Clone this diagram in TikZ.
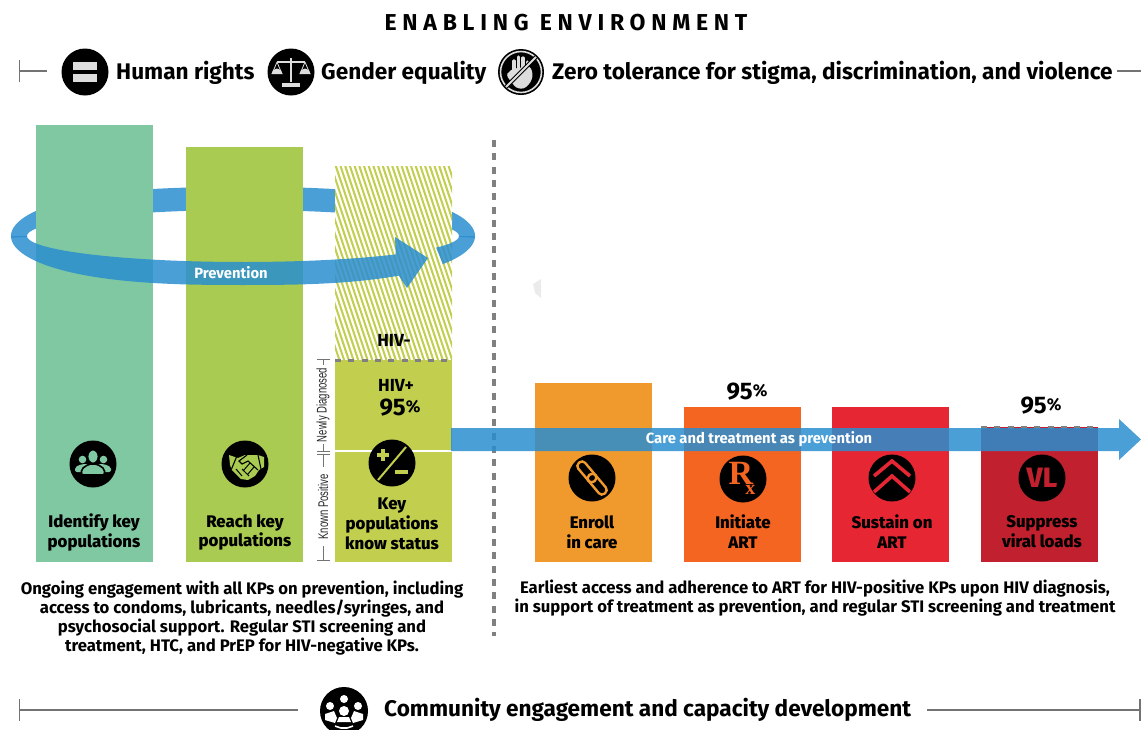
\documentclass[tikz,border=0pt]{standalone}
\usepackage{fontspec}
\setmainfont{Fira Sans}
\newfontfamily\narrowfont[FakeStretch=0.68]{Liberation Sans}
\newfontfamily\spacedfont[LetterSpace=25]{Fira Sans}
\newfontfamily\heavyfont{Fira Sans ExtraBold}
\newfontfamily\rxfont{Liberation Serif}
\definecolor{kpmint}{RGB}{128,200,162}
\definecolor{kpgreen}{RGB}{169,203,82}
\definecolor{kplime}{RGB}{193,206,78}
\definecolor{kporange}{RGB}{240,154,46}
\definecolor{kpflame}{RGB}{245,101,34}
\definecolor{kpred}{RGB}{230,39,51}
\definecolor{kpdark}{RGB}{193,33,46}
\definecolor{kpblue}{RGB}{42,142,207}
\definecolor{kpsky}{RGB}{74,159,214}
\definecolor{kpgrey}{RGB}{221,221,221}
\tikzstyle{bar}=[inner sep=0,minimum width=117pt,outer sep=0]
\tikzstyle{icon}=[circle,fill=black,inner sep=0,minimum size=47pt]
\tikzset{headtext/.style={font=\fontsize{22.6}{27}\selectfont\bfseries,inner sep=0}}
\tikzset{bartext/.style={font=\fontsize{16.8}{19.8}\selectfont\heavyfont,align=center,inner sep=0}}
\tikzset{bodytext/.style={font=\fontsize{16.7}{19.2}\selectfont\bfseries,align=center,inner sep=0}}
\tikzset{pct/.style={font=\fontsize{24}{26}\selectfont\bfseries,inner sep=0}}
\tikzset{sidetext/.style={font=\fontsize{14}{15}\selectfont\narrowfont,text=black!85,rotate=90,inner sep=0}}
\tikzset{greyrule/.style={draw=black!55,line width=1.1pt}}
\tikzset{greydash/.style={draw=black!50,line width=3.5pt,dash pattern=on 7pt off 6.3pt}}
\tikzset{declare function={ringx(\t)=243+232*sign(cos(\t))*pow(abs(cos(\t))+0.0001,.75);}}
\newcommand{\pctmark}{\raisebox{3pt}{\fontsize{17}{17}\selectfont\%}}
\begin{document}
\begin{tikzpicture}[x=1pt,y=-1pt]
\useasboundingbox (0,0) rectangle (1141,729);

% back of the prevention ring
\fill[kpsky] plot[domain=178:362,samples=61] ({ringx(\x)},{236+49*sin(\x)})
  -- plot[domain=362:178,samples=61] ({243+216*cos(\x)},{236+26*sin(\x)}) -- cycle;

% bars
\node[bar,fill=kpmint,minimum height=437pt] (identify) at (94.5,343.5) {};
\node[bar,fill=kpgreen,minimum height=415pt] (reach) at (244.5,354.5) {};
\node[bar,fill=white,minimum height=194pt] (negative) at (393.5,263) {};
\begin{scope}
\clip (335,166) rectangle (452,360);
\foreach \x in {270,274.7,...,456} {
  \draw[kplime,line width=2pt] (\x,166) -- (\x+64.7,360);
}
\end{scope}
\node[bar,fill=kplime,minimum height=202pt] (status) at (393.5,461) {};
\draw[white,line width=1.6pt] (status.west |- 0,451) -- (status.east |- 0,451);
\node[bar,fill=kporange,minimum height=179pt] (enroll) at (593.5,472.5) {};
\node[bar,fill=kpflame,minimum height=155pt] (initiate) at (742.5,484.5) {};
\node[bar,fill=kpred,minimum height=155pt] (sustain) at (890.5,484.5) {};
\node[bar,fill=kpdark,minimum height=135pt] (suppress) at (1039.5,494.5) {};

\draw[greydash,line width=3pt,dash pattern=on 6pt off 7.3pt] (335,360) -- (452,360);
\draw[greydash,line width=3pt,dash pattern=on 6pt off 7.3pt] (981,427) -- (1098,427);
\draw[greydash] (494,140) -- (494,636);

% faint mark
\fill[black!8] (533,284) -- (541,279) -- (541,298) -- (535,293) -- cycle;

% brackets left of the status bar
\draw[greyrule,line width=.8pt] (317,359.5) -- (330,359.5);
\draw[greyrule,line width=.8pt] (323,359.5) -- (323,365);
\draw[greyrule,line width=.8pt] (323,444) -- (323,451);
\draw[greyrule,line width=.8pt] (317,451) -- (330,451);
\draw[greyrule,line width=.8pt] (317,454) -- (330,454);
\draw[greyrule,line width=.8pt] (323,454) -- (323,467);
\draw[greyrule,line width=.8pt] (323,546) -- (323,560);
\draw[greyrule,line width=.8pt] (317,560) -- (330,560);
\node[sidetext] (newly) at (323,405) {Newly Diagnosed};
\node[sidetext] (known) at (323,507) {Known Positive};

% front of the ring
\fill[kpblue,opacity=.85] plot[domain=180:54,samples=50] ({ringx(\x)},{236+49*sin(\x)})
  -- (407,288) -- (428,258) -- (395,237)
  -- plot[domain=45:180,samples=50] ({243+216*cos(\x)},{236+26*sin(\x)}) -- cycle;
\fill[kpblue,opacity=.85] plot[domain=35:0,samples=20] ({ringx(\x)},{236+49*sin(\x)})
  -- plot[domain=0:26.6,samples=20] ({243+216*cos(\x)},{236+26*sin(\x)}) -- cycle;
\node[font=\fontsize{14.8}{16}\selectfont\bfseries,text=white,inner sep=0] (prevention) at (231,273) {Prevention};

% care arrow
\fill[kpblue,opacity=.85] (451,428) -- (1119,428) -- (1119,419) -- (1141,439.5) -- (1119,460) -- (1119,451) -- (451,451) -- cycle;
\node[font=\fontsize{14.8}{16}\selectfont\bfseries,text=white,inner sep=0] (care) at (759,439.5) {Care and treatment as prevention};

% top row
\node[font=\fontsize{23}{26}\selectfont\bfseries\spacedfont,inner sep=0] (title) at (566,23) {ENABLING ENVIRONMENT};
\draw[greyrule] (19.5,60) -- (19.5,82);
\draw[greyrule] (19.5,71) -- (47,71);
\draw[greyrule] (1117,71) -- (1141,71);
\node[icon] (rights) at (85,72) {};
\fill[kpgrey] (73,61.5) rectangle (97,69.5);
\fill[kpgrey] (73,74) rectangle (97,82);
\node[headtext,anchor=west] (rightstext) at (116,72.5) {Human rights};
\node[icon] (gender) at (291,72) {};
\begin{scope}[shift={(291,72)}]
\draw[kpgrey,line width=1.8pt] (0,-14) -- (0,10);
\draw[kpgrey,line width=1.6pt] (-14,-10) -- (14,-10);
\draw[kpgrey,line width=.8pt] (-14,-10) -- (-19,2) (-14,-10) -- (-9,2) (14,-10) -- (19,2) (14,-10) -- (9,2);
\fill[kpgrey] (-19.5,2) arc[start angle=180,end angle=360,radius=5.5] -- cycle;
\fill[kpgrey] (8.5,2) arc[start angle=180,end angle=360,radius=5.5] -- cycle;
\fill[kpgrey] (-9,11) rectangle (9,15);
\end{scope}
\node[headtext,anchor=west] (gendertext) at (321,72.5) {Gender equality};
\node[icon,minimum size=46pt] (zero) at (521,72) {};
\draw[kpgrey,line width=1.6pt] (521,72) circle (20.5);
\begin{scope}[shift={(521,72)}]
\fill[kpgrey,rounded corners=3pt] (-9,-3) -- (9,-6) -- (12,2) -- (10,10) -- (3,17) -- (-5,16) -- (-15,3) -- (-12,0) -- cycle;
\draw[kpgrey,line width=3.2pt,line cap=round] (-7,0) -- (-7,-11) (-2.5,-1) -- (-2.5,-15) (2,-1) -- (2,-14) (6.5,-1) -- (6.5,-10);
\draw[black,line width=4pt] (15,-15) -- (-15,15);
\draw[kpgrey,line width=2pt] (15,-15) -- (-15,15);
\end{scope}
\node[headtext,anchor=west] (zerotext) at (552,72.5) {Zero tolerance for stigma, discrimination, and violence};

% bar icons and labels
\node[icon] (people) at (93,464) {};
\begin{scope}[shift={(93,464)},kpmint]
\fill (-10.5,-4.5) circle (3.8);
\fill (10.5,-4.5) circle (3.8);
\fill[rounded corners=2pt] (-18,8) -- (-18,3) -- (-11,0) -- (11,0) -- (18,3) -- (18,8) -- cycle;
\draw[black,line width=1.8pt,fill=kpmint] (0,-7.5) ellipse (5.5 and 7);
\draw[black,line width=1.6pt,fill=kpmint,rounded corners=2pt] (-11.5,11) -- (-11.5,5) -- (-4,0) -- (4,0) -- (11.5,5) -- (11.5,11) -- cycle;
\end{scope}
\node[bartext] (identifytext) at (94,532.5) {Identify key\\populations};
\node[icon] (shake) at (245,464) {};
\begin{scope}[shift={(245,464)},kpgreen]
\fill (-16,-9) -- (-7,-6) -- (0,-9) -- (7,-9) -- (13,-9) -- (19,-7) -- (19,3) -- (14,6) -- (10,12) -- (3,16) -- (-4,15) -- (-13,6) -- (-15,1) -- cycle;
\draw[black,line width=1.1pt] (-8.5,-7) -- (-13.5,5) (13,-9) -- (16,5);
\draw[black,line width=1.1pt] (2,-9) -- (-6,-3) -- (-3,0) -- (3,-3) -- (13,6);
\draw[black,line width=1pt] (9,3) -- (3,10) (5,-1) -- (-2,7) (4,12) -- (-3,5) (-3,12) -- (-9,5);
\end{scope}
\node[bartext] (reachtext) at (245,532.5) {Reach key\\populations};
\node[icon] (plusminus) at (392,463) {};
\begin{scope}[shift={(392,463)},kplime]
\draw[line width=2pt] (14,-16) -- (-14,17);
\draw[line width=4pt] (-15,-8) -- (-3,-8) (-9,-14) -- (-9,-2);
\draw[line width=4pt] (3,9) -- (16,9);
\end{scope}
\node[bartext] (statustext) at (392,524) {Key\\populations\\know status};
\node[font=\fontsize{17.5}{19}\selectfont\bfseries,inner sep=0] (hivneg) at (394,340) {HIV-};
\node[font=\fontsize{17.5}{19}\selectfont\bfseries,inner sep=0] (hivpos) at (396,385) {HIV+};
\node[pct] (pctstatus) at (400,408) {95\pctmark};

\node[icon] (chain) at (592,478) {};
\begin{scope}[shift={(592,478)},rotate=-50,kporange]
\draw[line width=2.4pt,rounded corners=4pt] (-20,-4.5) rectangle (4,4.5);
\draw[line width=2.4pt,rounded corners=4pt] (-4,-4.5) rectangle (20,4.5);
\end{scope}
\node[bartext] (enrolltext) at (592,532) {Enroll\\in care};
\node[icon] (rx) at (743,479) {};
\node[font=\fontsize{34}{34}\selectfont\rxfont\bfseries,text=kpflame,inner sep=0] (rxsign) at (742,478) {R\kern-8pt\raisebox{-10pt}{\fontsize{20}{20}\selectfont x}};
\node[bartext] (initiatetext) at (743,532) {Initiate\\ART};
\node[pct] (pctinitiate) at (747,392) {95\pctmark};
\node[icon] (chevron) at (892,478) {};
\draw[kpred,line width=3.6pt] (874,476) -- (892,461) -- (910,476);
\draw[kpred,line width=3.6pt] (874,492) -- (892,476) -- (910,492);
\node[bartext] (sustaintext) at (892,532) {Sustain on\\ART};
\node[icon] (vl) at (1042,478) {};
\node[font=\fontsize{28}{28}\selectfont\heavyfont,text=kpdark,inner sep=0] (vlsign) at (1042,478) {VL};
\node[bartext] (suppresstext) at (1042,531.5) {Suppress\\viral loads};
\node[pct] (pctsuppress) at (1041,406) {95\pctmark};

% paragraphs
\node[bodytext] (leftbody) at (242,618) {Ongoing engagement with all KPs on prevention, including\\access to condoms, lubricants, needles/syringes, and\\psychosocial support. Regular STI screening and\\treatment, HTC, and PrEP for HIV-negative KPs.};
\node[bodytext] (rightbody) at (815,598) {Earliest access and adherence to ART for HIV-positive KPs upon HIV diagnosis,\\in support of treatment as prevention, and regular STI screening and treatment};

% bottom row
\draw[greyrule] (19.5,699) -- (19.5,721);
\draw[greyrule] (19.5,710) -- (298,710);
\draw[greyrule] (927,710) -- (1140,710);
\draw[greyrule] (1140,699) -- (1140,721);
\node[icon,minimum size=48pt] (community) at (344,711) {};
\begin{scope}[shift={(344,711)},white]
\fill (0,-12) circle (4);
\fill (-14,-5) circle (4);
\fill (14,-5) circle (4);
\fill (-19,9) -- (-19,3) -- (-10,0) -- (-7,7) -- (-9,12) -- cycle;
\fill (19,9) -- (19,3) -- (10,0) -- (7,7) -- (9,12) -- cycle;
\fill (0,0) circle (5);
\fill (-7,11) -- (-5,6) -- (5,6) -- (7,11) -- cycle;
\draw[line width=1.6pt] (-9,15) -- (-3,17) -- (3,17) -- (9,15);
\end{scope}
\node[headtext,anchor=west] (communitytext) at (384,709.5) {Community engagement and capacity development};

\end{tikzpicture}
\end{document}
